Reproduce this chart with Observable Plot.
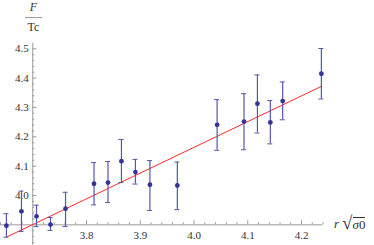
<!DOCTYPE html>
<html><head><meta charset="utf-8">
<script src="https://cdn.jsdelivr.net/npm/d3@7"></script>
<script src="https://cdn.jsdelivr.net/npm/@observablehq/plot@0.6"></script>
<style>
body{margin:0;background:#fff;}
#wrap{position:relative;width:374px;height:245px;font-family:"Liberation Serif",serif;color:#333;}
#wrap svg{position:absolute;left:0;top:0;}
#wrap svg text{font-family:"Liberation Serif",serif;}
.ylab{position:absolute;left:25px;top:0;width:17px;text-align:center;font-size:12px;line-height:12px;}
.xlab{position:absolute;left:334px;top:214px;font-size:13px;line-height:16px;white-space:nowrap;display:flex;align-items:flex-end;}
</style></head><body>
<div id="wrap"></div>
<script>
const xVals = [3.651,3.679,3.707,3.733,3.761,3.814,3.840,3.865,3.891,3.918,3.969,4.043,4.093,4.118,4.142,4.165,4.237];
const yVals = [3.897,3.946,3.929,3.901,3.955,4.040,4.044,4.117,4.080,4.037,4.034,4.241,4.252,4.313,4.249,4.322,4.415];
const yLow  = [3.858,3.877,3.894,3.881,3.894,3.968,3.976,4.044,4.039,3.949,3.952,4.154,4.156,4.213,4.176,4.258,4.329];
const yHigh = [3.938,4.015,3.967,3.925,4.011,4.112,4.116,4.191,4.123,4.119,4.114,4.327,4.347,4.411,4.324,4.387,4.501];
const fitX = [3.651,4.237];
const fitY = [3.858,4.372];
const xMajor = [3.8,3.9,4.0,4.1,4.2];
const xMinor = [3.64,3.66,3.68,3.72,3.74,3.76,3.78,3.82,3.84,3.86,3.88,3.92,3.94,3.96,3.98,4.02,4.04,4.06,4.08,4.12,4.14,4.16,4.18,4.22,4.24];
const yMajor = [4.0,4.1,4.2,4.3,4.4,4.5];
const yMinor = [3.84,3.86,3.88,3.92,3.94,3.96,3.98,4.02,4.04,4.06,4.08,4.12,4.14,4.16,4.18,4.22,4.24,4.26,4.28,4.32,4.34,4.36,4.38,4.42,4.44,4.46,4.48];
const xOrigin = 3.7, yOrigin = 3.9;
const xAxisEnd = [3.64, 4.24];
const yAxisEnd = [3.83, 4.519];

const pts = xVals.map((x,i)=>({x, y:yVals[i], lo:yLow[i], hi:yHigh[i]}));
const fit = fitX.map((x,i)=>({x, y:fitY[i]}));
const axisC = "#9a9a9a", barC = "#5656ad", dotC = "#333399";
const serif = "Liberation Serif, serif";

const chart = Plot.plot({
  width:374, height:245, margin:0,
  x:{domain:[3.8,4.2], range:[86,301], axis:null},
  y:{domain:[4.0,4.5], range:[195,48.3], axis:null},
  style:{fontFamily:serif, background:"transparent"},
  marks:[
    Plot.ruleX([xOrigin], {x:d=>d, y1:yAxisEnd[0], y2:yAxisEnd[1], stroke:axisC}),
    Plot.ruleY([yOrigin], {y:d=>d, x1:xAxisEnd[0], x2:xAxisEnd[1], stroke:axisC}),
    Plot.ruleX(xMajor, {x:d=>d, y1:yOrigin, y2:yOrigin, insetTop:-4, stroke:axisC}),
    Plot.ruleX(xMinor, {x:d=>d, y1:yOrigin, y2:yOrigin, insetTop:-2, stroke:axisC}),
    Plot.ruleY(yMajor, {y:d=>d, x1:xOrigin, x2:xOrigin, insetRight:-4, stroke:axisC}),
    Plot.ruleY(yMinor, {y:d=>d, x1:xOrigin, x2:xOrigin, insetRight:-2, stroke:axisC}),
    Plot.text(xMajor, {x:d=>d, y:yOrigin, dy:11, text:d=>d.toFixed(1), fill:"#333", fontSize:11, fontFamily:serif}),
    Plot.text(yMajor, {x:xOrigin, y:d=>d, dx:-4, textAnchor:"end", text:d=>d.toFixed(1), fill:"#333", fontSize:11, fontFamily:serif}),
    Plot.line(fit, {x:"x", y:"y", stroke:"#ff2a2a", strokeWidth:1}),
    Plot.ruleX(pts, {x:"x", y1:"lo", y2:"hi", stroke:barC, strokeWidth:1.2}),
    Plot.ruleY(pts, {y:"lo", x1:"x", x2:"x", insetLeft:-2.5, insetRight:-2.5, stroke:barC, strokeWidth:1}),
    Plot.ruleY(pts, {y:"hi", x1:"x", x2:"x", insetLeft:-2.5, insetRight:-2.5, stroke:barC, strokeWidth:1}),
    Plot.dot(pts, {x:"x", y:"y", r:2.4, fill:dotC, stroke:"none"})
  ]
});
const wrap = document.getElementById("wrap");
wrap.appendChild(chart);
const yl = document.createElement("div");
yl.className = "ylab";
yl.innerHTML = '<div style="font-style:italic;padding-top:1px">F</div><div style="border-top:1px solid #999;margin:4px 0 3px 0"></div><div>Tc</div>';
wrap.appendChild(yl);
const xl = document.createElement("div");
xl.className = "xlab";
xl.innerHTML = '<span style="font-style:italic;margin-right:3px">r</span><span style="font-size:19px;line-height:18px">√</span><span style="border-top:1px solid #333;padding-top:0px;line-height:14px"><span style="font-style:italic">σ</span>0</span>';
wrap.appendChild(xl);
</script>
</body></html>
